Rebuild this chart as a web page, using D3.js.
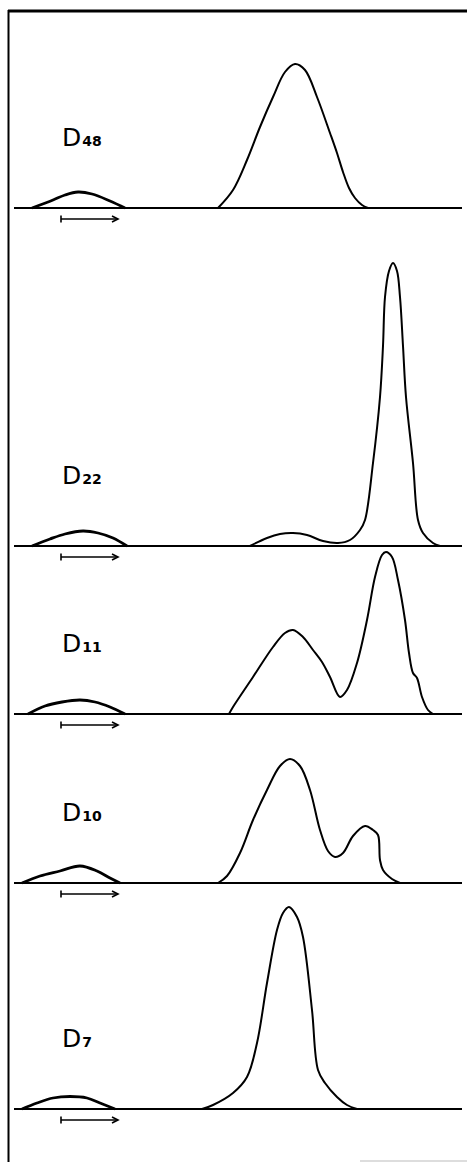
<!DOCTYPE html>
<html>
<head>
<meta charset="utf-8">
<script src="https://cdn.jsdelivr.net/npm/d3@7"></script>
<style>
  html, body { margin: 0; padding: 0; background: #fff; }
  svg { display: block; }
</style>
</head>
<body>
<div id="chart"></div>
<script>
// sample labels (D + subscript day), top to bottom
const samples = ["D48", "D22", "D11", "D10", "D7"];
const subscripts = ["48", "22", "11", "10", "7"];

// vertical offset of each trace baseline (absorbance units)
const offsets = [9.01, 5.63, 3.95, 2.26, 0];

// migration distance (mm) and absorbance for the application hump
const humpX = [
  [4.5, 9.75, 12.75, 16, 19.5, 24, 27.75],
  [4.5, 9, 12.75, 17.25, 21, 24.75, 28.25],
  [3.5, 7.75, 12, 16.5, 20.25, 24, 27.75],
  [2, 6.5, 11.5, 16.5, 20.75, 24, 26.5],
  [2, 5.75, 9.75, 14, 18.25, 21.5, 25.25]
];
const humpY = [
  [0, 0.08, 0.13, 0.16, 0.14, 0.07, 0],
  [0, 0.07, 0.12, 0.15, 0.13, 0.08, 0],
  [0, 0.08, 0.12, 0.14, 0.12, 0.07, 0],
  [0, 0.07, 0.12, 0.17, 0.12, 0.05, 0],
  [0, 0.06, 0.11, 0.125, 0.11, 0.06, 0]
];

// main protein peaks
const peakX = [
  [51, 54.75, 58.25, 61.5, 64.75, 67.75, 70.25, 72.75, 75.75, 79, 80.75, 82.25, 83.75, 85.25,
   87, 88.5],
  [59, 63.25, 66.5, 69.75, 73.25, 77.25, 81, 84, 86.5, 87.75, 89.75, 91.5, 92.25, 92.75, 93.75,
   94.75, 95.75, 96.5, 97.25, 98, 99.75, 101, 102.25, 104.75, 106.5],
  [53.75, 54.75, 59.75, 64.75, 67.75, 69.75, 72.25, 74.75, 77, 79, 81.5, 83.25, 85.75, 88.25,
   90.25, 92, 93, 94.5, 96, 97.75, 98.75, 99.75, 100.75, 102, 103.5, 104.75],
  [51, 53.25, 56.5, 59.75, 63.25, 66.5, 69, 71.5, 74, 76.5, 78.5, 80.25, 82.25, 84.75, 87.75,
   89.75, 91, 91.5, 92.25, 94.5, 96.5],
  [47, 49.75, 54.75, 58.25, 60.75, 63.25, 65.75, 67.25, 68.75, 70.75, 72.25, 74.5, 76, 77.75,
   80.75, 83.25, 85.75]
];
const peakY = [
  [0, 0.18, 0.48, 0.81, 1.11, 1.36, 1.44, 1.38, 1.11, 0.75, 0.55, 0.36, 0.20, 0.10,
   0.03, 0],
  [0, 0.08, 0.12, 0.13, 0.11, 0.05, 0.03, 0.06, 0.16, 0.26, 0.83, 1.49, 2.0, 2.49, 2.75,
   2.83, 2.75, 2.49, 2.0, 1.49, 0.83, 0.26, 0.13, 0.03, 0],
  [0, 0.07, 0.37, 0.67, 0.81, 0.84, 0.77, 0.64, 0.52, 0.37, 0.17, 0.24, 0.51, 0.94,
   1.37, 1.59, 1.62, 1.57, 1.34, 0.94, 0.61, 0.41, 0.36, 0.17, 0.04, 0],
  [0, 0.07, 0.30, 0.63, 0.93, 1.17, 1.24, 1.17, 0.93, 0.53, 0.32, 0.26, 0.30, 0.47, 0.57,
   0.53, 0.48, 0.23, 0.13, 0.04, 0],
  [0, 0.04, 0.16, 0.32, 0.66, 1.26, 1.79, 1.96, 2.02, 1.92, 1.72, 0.99, 0.39, 0.26,
   0.12, 0.04, 0]
];

// direction-of-migration arrow (mm)
const arrowFrom = 11.75;
const arrowTo = 26;

const width = 467, height = 1162;

const svg = d3.select("#chart").append("svg")
    .attr("width", width)
    .attr("height", height);

const x = d3.scaleLinear().domain([0, 112]).range([14, 462]);
const y = d3.scaleLinear().domain([0, 9.01]).range([1109, 208]);

const line = d3.line()
    .x(d => x(d[0]))
    .y(d => Math.min(y(d[1]), y(d.base)))
    .curve(d3.curveCatmullRom.alpha(0.5));

// frame (top and left edges)
svg.append("line")
    .attr("x1", 8).attr("x2", width)
    .attr("y1", 11).attr("y2", 11)
    .attr("stroke", "#000").attr("stroke-width", 3);
svg.append("line")
    .attr("x1", 8.5).attr("x2", 8.5)
    .attr("y1", 10).attr("y2", height)
    .attr("stroke", "#000").attr("stroke-width", 2);
svg.append("line")
    .attr("x1", 360).attr("x2", width)
    .attr("y1", 1161).attr("y2", 1161)
    .attr("stroke", "#bbb").attr("stroke-width", 1);

const panels = svg.selectAll("g.panel")
    .data(samples)
    .enter()
    .append("g")
    .attr("class", "panel");

function pts(xs, ys, off) {
    return xs.map((v, j) => {
        const p = [v, ys[j] + off];
        p.base = off;
        return p;
    });
}

panels.each(function(s, i) {
    const g = d3.select(this);
    const off = offsets[i];

    // baseline
    g.append("line")
        .attr("x1", x(0)).attr("x2", x(112))
        .attr("y1", y(off)).attr("y2", y(off))
        .attr("stroke", "#000").attr("stroke-width", 2);

    // application hump
    g.append("path")
        .datum(pts(humpX[i], humpY[i], off))
        .attr("d", line)
        .attr("fill", "none")
        .attr("stroke", "#000")
        .attr("stroke-width", 2.8)
        .attr("stroke-linejoin", "round");

    // main peak(s)
    g.append("path")
        .datum(pts(peakX[i], peakY[i], off))
        .attr("d", line)
        .attr("fill", "none")
        .attr("stroke", "#000")
        .attr("stroke-width", 2)
        .attr("stroke-linejoin", "round");

    // arrow below baseline
    const ay = y(off) + 11;
    g.append("line")
        .attr("x1", x(arrowFrom)).attr("x2", x(arrowTo))
        .attr("y1", ay).attr("y2", ay)
        .attr("stroke", "#000").attr("stroke-width", 1.6);
    g.append("line")
        .attr("x1", x(arrowFrom)).attr("x2", x(arrowFrom))
        .attr("y1", ay - 3.5).attr("y2", ay + 3.5)
        .attr("stroke", "#000").attr("stroke-width", 1.6);
    g.append("path")
        .attr("d", `M${x(arrowTo) - 6},${ay - 3}L${x(arrowTo)},${ay}L${x(arrowTo) - 6},${ay + 3}`)
        .attr("fill", "none")
        .attr("stroke", "#000").attr("stroke-width", 1.6);

    // label
    const t = g.append("text")
        .attr("x", x(12))
        .attr("y", y(off + 0.62))
        .attr("font-family", "'DejaVu Sans', sans-serif")
        .attr("fill", "#000");
    t.append("tspan")
        .attr("font-size", 25)
        .text("D");
    t.append("tspan")
        .attr("font-size", 14)
        .attr("font-weight", "bold")
        .attr("dx", 1)
        .text(subscripts[i]);
});
</script>
</body>
</html>
